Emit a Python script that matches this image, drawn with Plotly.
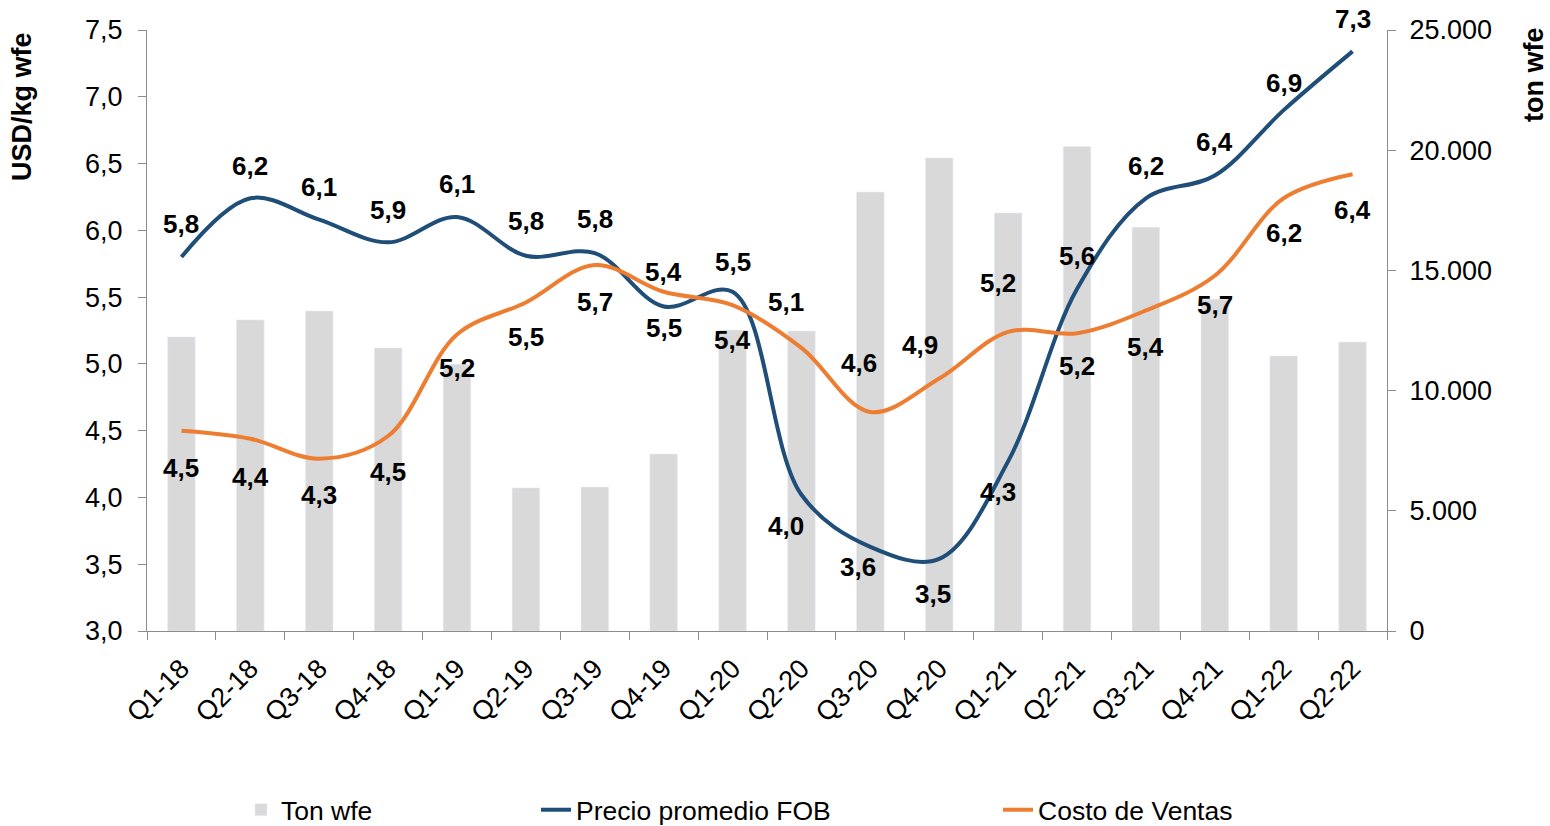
import plotly.graph_objects as go

categories = ["Q1-18", "Q2-18", "Q3-18", "Q4-18", "Q1-19", "Q2-19", "Q3-19", "Q4-19",
              "Q1-20", "Q2-20", "Q3-20", "Q4-20", "Q1-21", "Q2-21", "Q3-21", "Q4-21",
              "Q1-22", "Q2-22"]

ton_wfe = [12230, 12940, 13310, 11770, 11100, 5950, 5990, 7360,
           12520, 12480, 18260, 19680, 17390, 20150, 16800, 13800,
           11440, 12020]

precio_fob = [5.80, 6.24, 6.08, 5.91, 6.10, 5.81, 5.83, 5.43,
              5.54, 4.02, 3.63, 3.54, 4.27, 5.56, 6.24, 6.41,
              6.90, 7.34]

costo_ventas = [4.50, 4.44, 4.29, 4.46, 5.22, 5.46, 5.74, 5.54,
                5.44, 5.12, 4.64, 4.89, 5.24, 5.23, 5.40, 5.66,
                6.24, 6.42]

# label offsets (pixels): (xshift, yshift)
fob_label_offsets = [(0, 33), (0, 32), (0, 33), (0, 32), (0, 33), (0, 35), (0, 34), (0, 34),
                     (0, 30), (-15, -31), (-12, -20), (-6, -35), (-10, -31), (0, 33), (0, 32),
                     (0, 34), (0, 27), (0, 32)]
costo_label_offsets = [(0, -37), (0, -38), (0, -36), (0, -36), (0, -33), (0, -35), (0, -37),
                       (0, -36), (0, -35), (-15, 46), (-11, 49), (-19, 34), (-10, 49), (0, -33),
                       (0, -37), (0, -29), (0, -35), (0, -36)]

FONT = "Liberation Sans, Arial, sans-serif"
BLUE = "#1F4E79"
ORANGE = "#ED7D31"
GREY_BAR = "#D9D9D9"
AXIS = "#8C8C8C"

W, H = 1550, 826
PL, PR, PT, PB = 147, 1387, 30, 631  # plot area in figure px
PW, PH = PR - PL, PB - PT


def px_to_paper_x(x):
    return (x - PL) / PW


def px_to_paper_y(y):
    return (PB - y) / PH


def fmt(v):
    return f"{v:.1f}".replace(".", ",")


fig = go.Figure()

fig.add_trace(go.Bar(
    x=categories, y=ton_wfe, name="Ton wfe", marker_color=GREY_BAR,
    width=0.4, yaxis="y", legend="legend",
))
fig.add_trace(go.Scatter(
    x=categories, y=precio_fob, name="Precio promedio FOB", mode="lines",
    line=dict(color=BLUE, width=4, shape="spline", smoothing=1.0),
    yaxis="y2", legend="legend2",
))
fig.add_trace(go.Scatter(
    x=categories, y=costo_ventas, name="Costo de Ventas", mode="lines",
    line=dict(color=ORANGE, width=4, shape="spline", smoothing=1.0),
    yaxis="y2", legend="legend3",
))

label_font = dict(family=FONT, size=26, color="black", weight="bold")
title_font = dict(family=FONT, size=27, color="black", weight="bold")
annotations = []
for cat, v, (dx, dy) in zip(categories, precio_fob, fob_label_offsets):
    annotations.append(dict(x=cat, y=v, xref="x", yref="y2", text=fmt(v), showarrow=False,
                            xshift=dx, yshift=dy, font=label_font))
for cat, v, (dx, dy) in zip(categories, costo_ventas, costo_label_offsets):
    annotations.append(dict(x=cat, y=v, xref="x", yref="y2", text=fmt(v), showarrow=False,
                            xshift=dx, yshift=dy, font=label_font))

# axis titles
annotations.append(dict(text="USD/kg wfe", x=px_to_paper_x(22), y=px_to_paper_y(107),
                        xref="paper", yref="paper", textangle=-90, showarrow=False,
                        xanchor="center", yanchor="middle", font=title_font))
annotations.append(dict(text="ton wfe", x=px_to_paper_x(1534), y=px_to_paper_y(75),
                        xref="paper", yref="paper", textangle=-90, showarrow=False,
                        xanchor="center", yanchor="middle", borderpad=0, font=title_font))

legend_common = dict(orientation="h", yanchor="middle", y=px_to_paper_y(810), xanchor="left",
                     bgcolor="rgba(0,0,0,0)", font=dict(family=FONT, size=26.5, color="black"))

tick_font = dict(family=FONT, size=27, color="black")

fig.update_layout(
    width=W, height=H,
    margin=dict(l=PL, r=W - PR, t=PT, b=H - PB, autoexpand=False),
    paper_bgcolor="white", plot_bgcolor="white",
    separators=",.",
    font=dict(family=FONT, size=27, color="black"),
    bargap=0.6,
    showlegend=True,
    legend=dict(x=px_to_paper_x(241), **legend_common),
    legend2=dict(x=px_to_paper_x(536), **legend_common),
    legend3=dict(x=px_to_paper_x(998), **legend_common),
    xaxis=dict(type="category", range=[-0.5, 17.5], tickson="boundaries",
               ticks="outside", ticklen=8, tickcolor=AXIS, showline=True, linecolor=AXIS,
               linewidth=1, tickangle=-45, showgrid=False, tickfont=tick_font,
               ticklabelstandoff=10),
    yaxis=dict(side="right", range=[0, 25000], dtick=5000, tick0=0, tickformat=",.0f",
               showline=True, linecolor=AXIS, linewidth=1, ticks="outside", ticklen=8,
               tickcolor=AXIS, showgrid=False, zeroline=False, tickfont=tick_font,
               ticklabelstandoff=8),
    yaxis2=dict(overlaying="y", side="left", range=[3, 7.5], dtick=0.5, tick0=3,
                tickformat=".1f", showline=True, linecolor=AXIS, linewidth=1,
                ticks="outside", ticklen=8, tickcolor=AXIS, showgrid=False, zeroline=False,
                tickfont=tick_font, ticklabelstandoff=10),
    annotations=annotations,
)

fig.write_html("out.html", config={"displayModeBar": False},
               post_script="document.body.style.margin='0px';")
